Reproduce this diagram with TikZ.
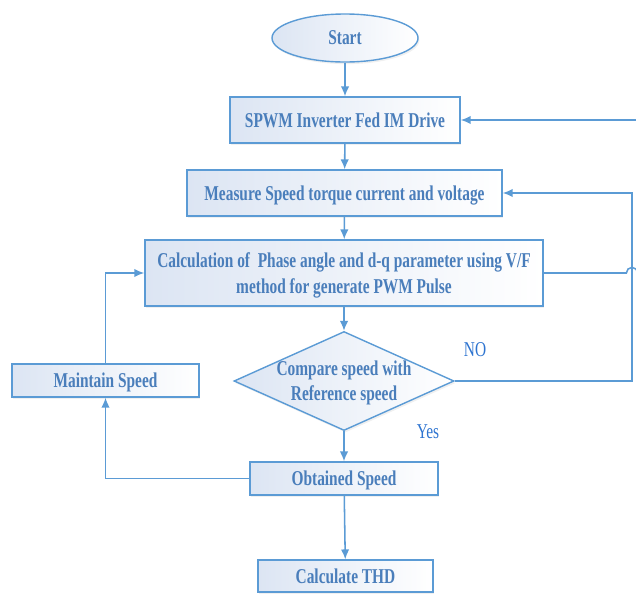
\documentclass[tikz,border=0pt]{standalone}
\usepackage{fontspec}
\setmainfont{Liberation Serif}[FakeStretch=0.73]
\usetikzlibrary{arrows.meta, calc, positioning, shapes.geometric, shadows}
\definecolor{lineblue}{HTML}{5B9BD5}
\definecolor{textblue}{HTML}{4A7EBB}
\definecolor{labelblue}{HTML}{2E74D0}
\definecolor{boxfill}{HTML}{DCE5F3}
\tikzstyle{block} = [draw=lineblue, line width=1pt, left color=boxfill, right color=white, text=textblue, font=\fontsize{15}{19}\selectfont\bfseries, align=center, inner sep=0pt, text depth=0pt, drop shadow={opacity=0.12, shadow xshift=1pt, shadow yshift=-1.5pt}]
\tikzstyle{decision} = [diamond, draw=lineblue, line width=1pt, left color=boxfill, right color=white, inner sep=0pt, drop shadow={opacity=0.12, shadow xshift=1pt, shadow yshift=-1.5pt}]
\tikzstyle{inside} = [text=textblue, font=\fontsize{15}{18}\selectfont\bfseries, align=center, text depth=0pt]
\tikzstyle{answer} = [text=labelblue, font=\fontsize{15}{16}\selectfont]
\tikzstyle{link} = [draw=lineblue, line width=1.1pt, -{Latex[length=7pt,width=6pt]}]

\begin{document}
\begin{tikzpicture}[x=0.025cm, y=-0.025cm]
  \useasboundingbox (0,0) rectangle (636,593);

  \node[block, ellipse, minimum width=3.65cm, minimum height=1.2cm] (start) at (345,38) {Start};
  \node[block, minimum width=5.75cm, minimum height=1.15cm] (spwm) at (345,120) {SPWM Inverter Fed IM Drive};
  \node[block, minimum width=7.875cm, minimum height=1.15cm] (measure) at (344.5,193) {Measure Speed torque current and voltage};
  \node[block, minimum width=9.95cm, minimum height=1.65cm] (calc) at (344,273) {Calculation of\ \ Phase angle and d-q parameter using V/F\\method for generate PWM Pulse};
  \node[decision, minimum width=5.5cm, minimum height=2.475cm] (cmp) at (344,381) {};
  \node[inside] (cmptext) at (cmp) {Compare speed with\\Reference speed};
  \node[block, minimum width=4.675cm, minimum height=0.825cm] (maintain) at (105.5,380.5) {Maintain Speed};
  \node[block, minimum width=4.7cm, minimum height=0.825cm] (obtained) at (344,478.5) {Obtained Speed};
  \node[block, minimum width=4.375cm, minimum height=0.8cm] (thd) at (345.5,576) {Calculate THD};

  \node[answer] (no) at (475,350) {NO};
  \node[answer] (yes) at (428,432) {Yes};

  % rails on the right
  \coordinate (rail) at (632,0);
  \coordinate (outer) at (645,0);

  \draw[link] (start) -- (spwm);
  \draw[link] (spwm) -- (measure);
  \draw[link] (measure) -- (calc);
  \draw[link] (calc) -- (cmp);
  \draw[link] (cmp) -- (obtained);
  \draw[link] (obtained) -- (thd);

  \draw[link] (obtained.west) -| (maintain.south);
  \draw[link] (maintain.north) |- (calc.west);

  \draw[link] (cmp.east) -- (cmp.east -| rail) |- (measure.east);
  \draw[link] (calc.east) -- ($(calc.east -| rail)+(-4pt,0)$) arc[start angle=180, end angle=0, radius=4pt] -- (calc.east -| outer) |- (spwm.east);

\end{tikzpicture}
\end{document}
